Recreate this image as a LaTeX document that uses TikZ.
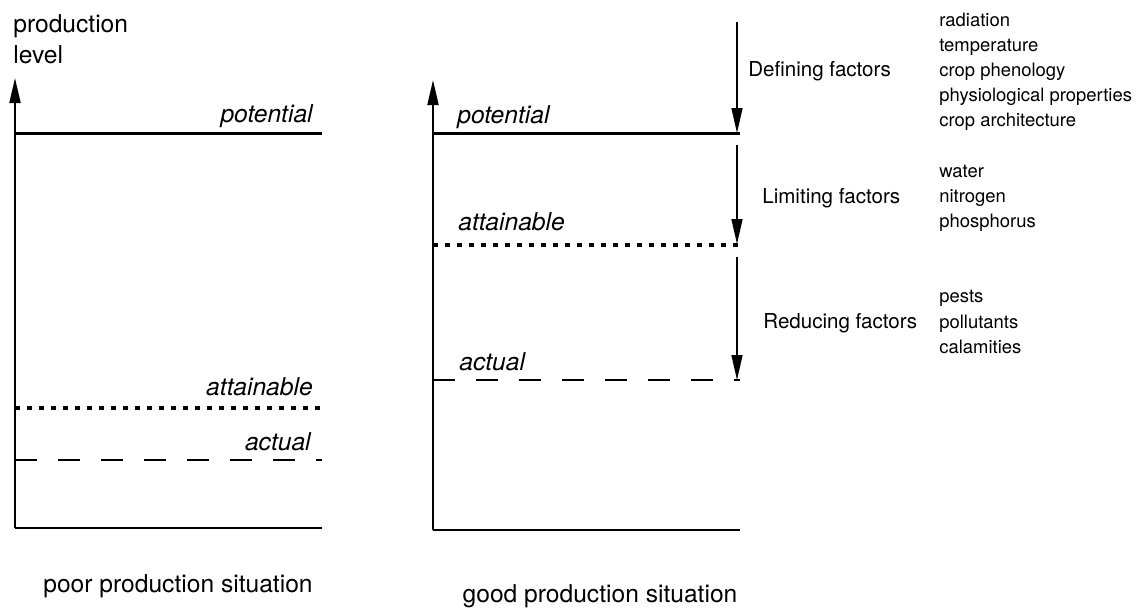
\documentclass[tikz,border=0pt]{standalone}
\usepackage{fontspec}
\setmainfont{TeX Gyre Heros}
\usetikzlibrary{arrows.meta}

\begin{document}
\begin{tikzpicture}[x=0.02cm,y=-0.02cm]
\tikzstyle{myarrow}=[line width=1.1pt,draw=black,-{Triangle[length=0.5cm,width=0.22cm]}]
\tikzstyle{factorarrow}=[line width=0.8pt,draw=black,-{Triangle[length=0.5cm,width=0.22cm]}]
\tikzstyle{groundline}=[line width=1.1pt]
\tikzstyle{potline}=[line width=1.7pt]
\tikzstyle{attline}=[line width=2.2pt,dash pattern=on 0.1cm off 0.14cm]
\tikzstyle{actline}=[line width=0.8pt,dash pattern=on 0.44cm off 0.42cm]
\tikzstyle{levellabel}=[font=\fontsize{14}{16}\selectfont\itshape,inner sep=0pt]
\tikzstyle{biglabel}=[font=\fontsize{14}{16}\selectfont,inner sep=0pt]
\tikzstyle{factorlabel}=[font=\fontsize{11.7}{14}\selectfont,inner sep=0pt,anchor=base west]
\tikzstyle{itemlabel}=[font=\fontsize{10.5}{12}\selectfont,inner sep=0pt,anchor=base west]

\useasboundingbox (0,0) rectangle (1139,610);

% left panel: poor production situation
\def \axisA{15}
\def \endA{322}
\draw [myarrow] (\axisA,528) -- (\axisA,78); % y axis
\draw [groundline] (\axisA,528) -- (\endA,528); % x axis
\draw [potline] (\axisA,133) -- (\endA,133);
\draw [attline] (\axisA,408) -- (\endA,408);
\draw [actline] (\axisA,460) -- (\endA,460);

\node [biglabel, anchor=base west] (prod) at (13,32) {production};
\node [biglabel, anchor=base west] (lev) at (13,63) {level};
\node [levellabel, anchor=base east] (potA) at (313,122) {potential};
\node [levellabel, anchor=base east] (attA) at (313,395) {attainable};
\node [levellabel, anchor=base east] (actA) at (311,450) {actual};
\node [biglabel, anchor=base] (poor) at (178,592) {poor production situation};

% right panel: good production situation
\def \axisB{433}
\def \endB{740}
\def \fx{737}
\draw [myarrow] (\axisB,530) -- (\axisB,80); % y axis
\draw [groundline] (\axisB,530) -- (\endB,530); % x axis
\draw [potline] (\axisB,133) -- (\endB,133);
\draw [attline] (\axisB,245) -- (\endB,245);
\draw [actline] (\axisB,380) -- (\endB,380);

\node [levellabel, anchor=base west] (potB) at (457,123) {potential};
\node [levellabel, anchor=base west] (attB) at (458,230) {attainable};
\node [levellabel, anchor=base west] (actB) at (459,370) {actual};
\node [biglabel, anchor=base] (good) at (600,602) {good production situation};

% factor arrows
\draw [factorarrow] (\fx,22) -- (\fx,133);
\draw [factorarrow] (\fx,145) -- (\fx,244);
\draw [factorarrow] (\fx,257) -- (\fx,380);

\node [factorlabel] (def) at (748,76) {Defining factors};
\node [factorlabel] (lim) at (762,203) {Limiting factors};
\node [factorlabel] (red) at (763,328) {Reducing factors};

\def \lx{939}
\node [itemlabel] (rad) at (\lx,26) {radiation};
\node [itemlabel] (temp) at (\lx,51) {temperature};
\node [itemlabel] (phen) at (\lx,76) {crop phenology};
\node [itemlabel] (phys) at (\lx,101) {physiological properties};
\node [itemlabel] (arch) at (\lx,126) {crop architecture};
\node [itemlabel] (wat) at (\lx,177) {water};
\node [itemlabel] (nit) at (\lx,202) {nitrogen};
\node [itemlabel] (phos) at (\lx,227) {phosphorus};
\node [itemlabel] (pest) at (\lx,302) {pests};
\node [itemlabel] (poll) at (\lx,328) {pollutants};
\node [itemlabel] (cal) at (\lx,353) {calamities};

\end{tikzpicture}
\end{document}
